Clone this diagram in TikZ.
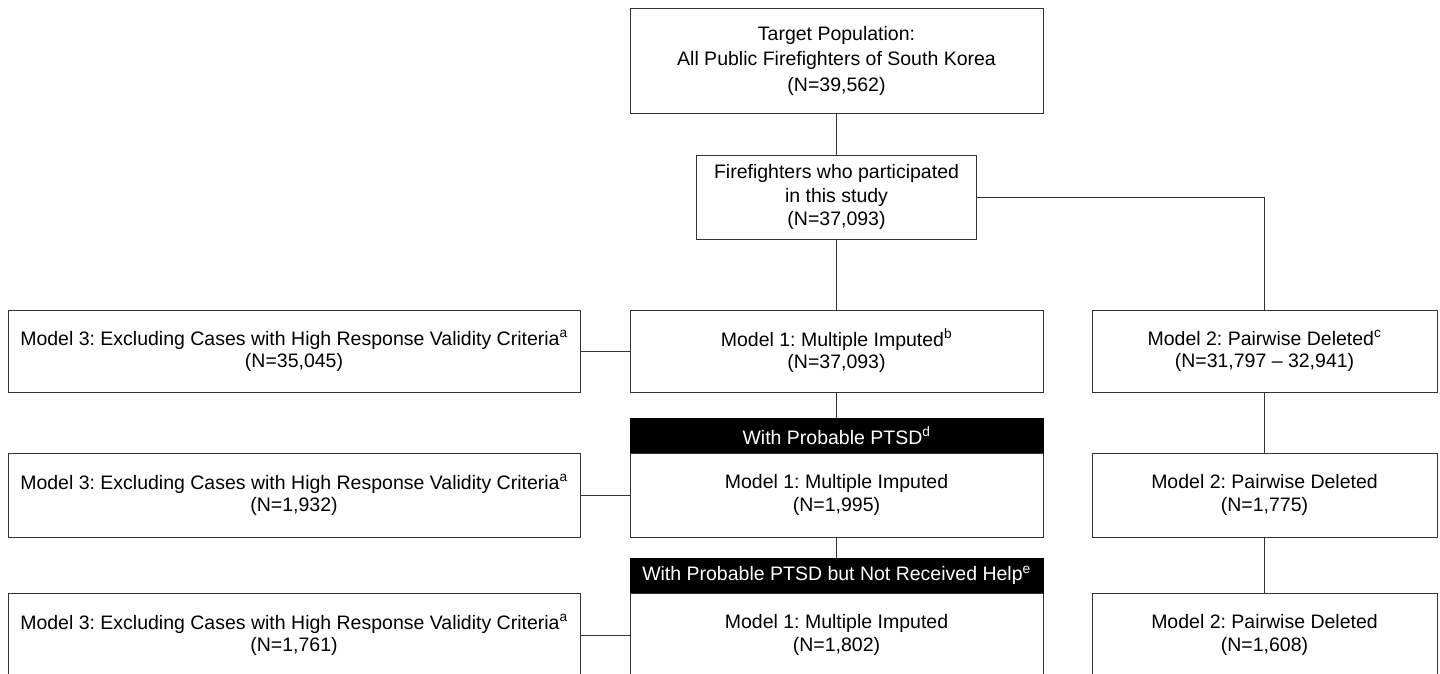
\documentclass[tikz,border=0pt]{standalone}
\usepackage{fontspec}
\setmainfont{Liberation Sans}
\frenchspacing
\begin{document}
\begin{tikzpicture}[x=1pt,y=-1pt,
  every node/.style={font=\fontsize{19.5}{22.5}\selectfont},
  box/.style={draw=black!80, line width=0.9pt, fill=white, align=center, inner sep=0pt},
  hdr/.style={draw=black, line width=0.9pt, fill=black, text=white, align=center, inner sep=0pt},
  link/.style={draw=black!80, line width=0.9pt},
  wide/.style={minimum width=413pt},
  left/.style={minimum width=572pt},
  right/.style={minimum width=345pt}]
\useasboundingbox (0,0) rectangle (1440,674);
\node[box, wide, minimum height=105pt, font=\fontsize{19.5}{25.5}\selectfont] (top) at (836.5,60.5) {Target Population:\\All Public Firefighters of South Korea\\(N=39,562)};
\node[box, minimum width=280pt, minimum height=84pt, font=\fontsize{19.5}{23.5}\selectfont] (part) at (836.5,197) {Firefighters who participated\\in this study\\(N=37,093)};
% row 1
\node[box, left, minimum height=82pt] (m3a) at (294,351) {Model 3: Excluding Cases with High Response Validity Criteria\textsuperscript{a}\\(N=35,045)};
\node[box, wide, minimum height=82pt] (m1a) at (836.5,351) {Model 1: Multiple Imputed\textsuperscript{b}\\(N=37,093)};
\node[box, right, minimum height=82pt] (m2a) at (1264.5,351) {Model 2: Pairwise Deleted\textsuperscript{c}\\(N=31,797 -- 32,941)};
% row 2
\node[hdr, wide, minimum height=35pt] (hdr1) at (836.5,435.5) {With Probable PTSD\textsuperscript{d}};
\node[box, wide, minimum height=84pt] (m1b) at (836.5,495) {Model 1: Multiple Imputed\\(N=1,995)};
\node[box, left, minimum height=84pt] (m3b) at (294,495) {Model 3: Excluding Cases with High Response Validity Criteria\textsuperscript{a}\\(N=1,932)};
\node[box, right, minimum height=84pt] (m2b) at (1264.5,495) {Model 2: Pairwise Deleted\\(N=1,775)};
% row 3
\node[hdr, wide, minimum height=35pt] (hdr2) at (836.5,575.5) {With Probable PTSD but Not Received Help\textsuperscript{e}};
\node[box, wide, minimum height=84pt] (m1c) at (836.5,635) {Model 1: Multiple Imputed\\(N=1,802)};
\node[box, left, minimum height=84pt] (m3c) at (294,635) {Model 3: Excluding Cases with High Response Validity Criteria\textsuperscript{a}\\(N=1,761)};
\node[box, right, minimum height=84pt] (m2c) at (1264.5,635) {Model 2: Pairwise Deleted\\(N=1,608)};
% connectors
\draw[link] (top.south) -- (part.north);
\draw[link] (part.south) -- (m1a.north);
\draw[link] (part.east) -| (m2a.north);
\draw[link] (m3a.east) -- (m1a.west);
\draw[link] (m1a.south) -- (hdr1.north);
\draw[link] (m3b.east) -- (m1b.west);
\draw[link] (m1b.south) -- (hdr2.north);
\draw[link] (m3c.east) -- (m1c.west);
\draw[link] (m2a.south) -- (m2b.north);
\draw[link] (m2b.south) -- (m2c.north);
\end{tikzpicture}
\end{document}
